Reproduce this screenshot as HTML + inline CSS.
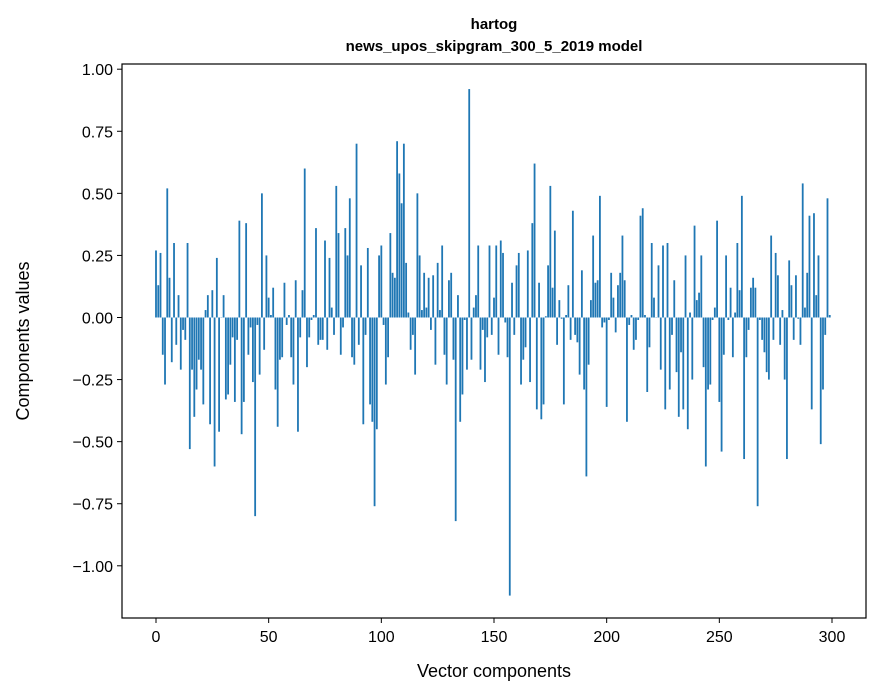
<!DOCTYPE html>
<html><head><meta charset="utf-8"><style>
html,body{margin:0;padding:0;background:#fff;}
svg{display:block;font-family:"Liberation Sans",sans-serif;}
</style></head><body>
<svg id="chart" width="880" height="696" viewBox="0 0 880 696">
<rect width="880" height="696" fill="#fff"/>
<text x="494" y="29" text-anchor="middle" font-size="15" font-weight="bold">hartog</text>
<text x="494" y="51" text-anchor="middle" font-size="15" font-weight="bold">news_upos_skipgram_300_5_2019 model</text>
<g id="bars"></g>
<g id="xticks"></g>
<g id="yticks"></g>
<rect x="122" y="64" width="744" height="554" fill="none" stroke="#000" stroke-width="1.2"/>
<text x="494" y="677" text-anchor="middle" font-size="18">Vector components</text>
<text transform="translate(29,341) rotate(-90)" text-anchor="middle" font-size="18">Components values</text>
</svg>
<script>
const values = [0.27,0.13,0.26,-0.15,-0.27,0.52,0.16,-0.18,0.30,-0.11,
0.09,-0.21,-0.05,-0.09,0.30,-0.53,-0.21,-0.40,-0.29,-0.17,
-0.21,-0.35,0.03,0.09,-0.43,0.11,-0.60,0.24,-0.46,0.0,
0.09,-0.33,-0.31,-0.19,-0.08,-0.34,-0.09,0.39,-0.47,-0.34,
0.38,-0.15,-0.04,-0.26,-0.80,-0.03,-0.23,0.50,-0.13,0.25,
0.08,0.01,0.12,-0.29,-0.44,-0.17,-0.16,0.14,-0.03,0.01,
-0.16,-0.27,0.15,-0.46,-0.08,0.11,0.60,-0.20,-0.08,-0.01,
0.01,0.36,-0.11,-0.09,-0.09,0.31,-0.13,0.24,0.04,-0.07,
0.53,0.34,-0.15,-0.04,0.36,0.25,0.48,-0.16,-0.19,0.70,
-0.11,0.21,-0.43,-0.07,0.28,-0.35,-0.42,-0.76,-0.45,0.25,
0.29,-0.03,-0.27,-0.16,0.34,0.18,0.16,0.71,0.58,0.46,
0.70,0.22,0.02,-0.13,-0.07,-0.23,0.50,0.25,0.03,0.18,
0.04,0.16,-0.05,0.17,-0.19,0.22,0.03,0.29,-0.15,-0.27,
0.15,0.18,-0.17,-0.82,0.09,-0.42,-0.31,-0.01,-0.21,0.92,
-0.17,0.04,0.09,0.29,-0.21,-0.05,-0.26,-0.08,0.29,-0.07,
0.08,0.29,-0.15,0.31,0.26,-0.02,-0.16,-1.12,0.14,-0.07,
0.21,0.26,-0.27,-0.17,-0.12,0.27,-0.26,0.38,0.62,-0.37,
0.14,-0.41,-0.35,0.005,0.21,0.53,0.12,0.35,-0.11,0.07,
-0.005,-0.35,0.01,0.13,-0.09,0.43,-0.07,-0.10,-0.23,0.19,
-0.29,-0.64,-0.19,0.07,0.33,0.14,0.15,0.49,-0.04,-0.02,
-0.36,-0.01,0.18,0.08,-0.06,0.13,0.18,0.33,0.15,-0.42,
-0.03,0.01,-0.13,-0.09,-0.01,0.41,0.44,0.01,-0.30,-0.12,
0.30,0.08,0.0,0.21,-0.21,0.29,-0.37,0.30,-0.29,-0.07,
0.15,-0.22,-0.40,-0.14,-0.37,0.25,-0.45,0.02,-0.25,0.37,
0.07,0.10,0.25,-0.20,-0.60,-0.29,-0.27,-0.01,0.04,0.39,
-0.34,-0.54,-0.15,0.25,-0.01,0.12,-0.16,0.02,0.30,0.11,
0.49,-0.57,-0.16,-0.05,0.12,0.16,0.12,-0.76,-0.01,-0.09,
-0.14,-0.22,-0.25,0.33,-0.09,0.26,0.17,-0.11,0.03,-0.25,
-0.57,0.23,0.13,-0.09,0.17,-0.005,-0.11,0.54,0.04,0.18,
0.41,-0.37,0.42,0.09,0.25,-0.51,-0.29,-0.07,0.48,0.01];
const xTickValues = [0,50,100,150,200,250,300];
const yTickValues = [1.00,0.75,0.50,0.25,0.00,-0.25,-0.50,-0.75,-1.00];
const yTickLabels = ["1.00","0.75","0.50","0.25","0.00","\u22120.25","\u22120.50","\u22120.75","\u22121.00"];

const NS = "http://www.w3.org/2000/svg";
function xScale(v){ return 156 + v * (676/300); }
function yScale(v){ return 317.5 - v * 248.3; }

const barsG = document.getElementById('bars');
const bw = 0.8 * (676/300);
values.forEach((v, i) => {
  const r = document.createElementNS(NS, 'rect');
  const y0 = yScale(0), y1 = yScale(v);
  r.setAttribute('x', xScale(i) - bw/2);
  r.setAttribute('y', Math.min(y0, y1));
  r.setAttribute('width', bw);
  r.setAttribute('height', Math.max(Math.abs(y1 - y0), 0.3));
  r.setAttribute('fill', '#1f77b4');
  
  
  barsG.appendChild(r);
});

const xg = document.getElementById('xticks');
xTickValues.forEach(t => {
  const x = xScale(t);
  const l = document.createElementNS(NS, 'line');
  l.setAttribute('x1', x); l.setAttribute('x2', x);
  l.setAttribute('y1', 618); l.setAttribute('y2', 623);
  l.setAttribute('stroke', '#000');
  
  
  xg.appendChild(l);
  const tx = document.createElementNS(NS, 'text');
  tx.setAttribute('x', x); tx.setAttribute('y', 642);
  tx.setAttribute('text-anchor', 'middle');
  tx.setAttribute('font-size', '16');
  tx.textContent = String(t);
  
  
  xg.appendChild(tx);
});

const yg = document.getElementById('yticks');
yTickValues.forEach((t, i) => {
  const y = yScale(t);
  const l = document.createElementNS(NS, 'line');
  l.setAttribute('x1', 117); l.setAttribute('x2', 122);
  l.setAttribute('y1', y); l.setAttribute('y2', y);
  l.setAttribute('stroke', '#000');
  
  
  yg.appendChild(l);
  const tx = document.createElementNS(NS, 'text');
  tx.setAttribute('x', 113); tx.setAttribute('y', y + 6);
  tx.setAttribute('text-anchor', 'end');
  tx.setAttribute('font-size', '16');
  tx.textContent = yTickLabels[i];
  
  
  yg.appendChild(tx);
});
</script>
</body></html>
